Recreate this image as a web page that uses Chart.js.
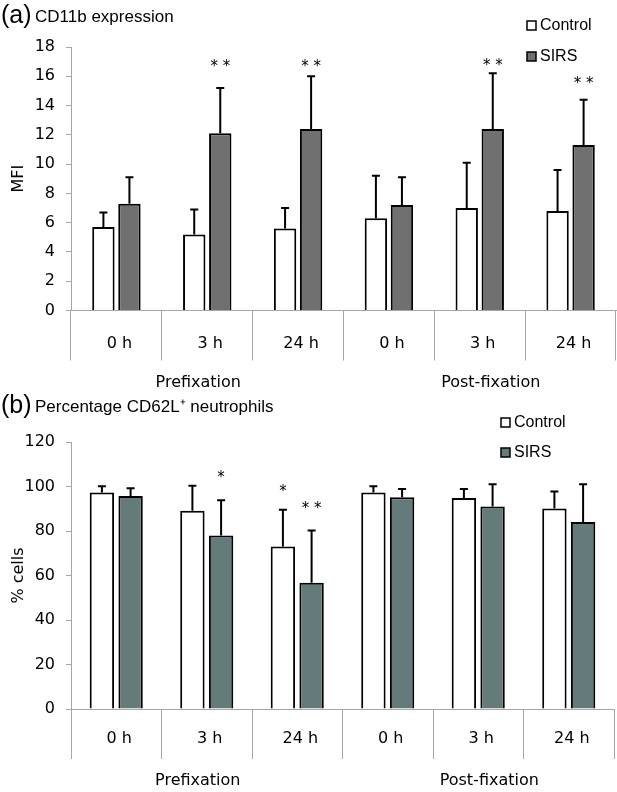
<!DOCTYPE html>
<html><head><meta charset="utf-8">
<title>CD11b / CD62L</title>
<script src="https://cdn.jsdelivr.net/npm/chart.js"></script>
<style>
  body { margin: 0; background: #fff; }
  .panel { position: relative; width: 617px; }
  canvas { display: block; }
</style>
</head>
<body>
<div class="panel"><canvas id="chartA" width="617" height="390"></canvas></div>
<div class="panel"><canvas id="chartB" width="617" height="402"></canvas></div>

<script>
// categories (time points), grouped in Prefixation / Post-fixation
const tickLabels = ['0 h', '3 h', '24 h', '0 h', '3 h', '24 h'];
const groupLabels = ['Prefixation', 'Post-fixation'];
const seriesNames = ['Control', 'SIRS'];

// (a) CD11b expression, MFI
const controlA = [5.7, 5.2, 5.6, 6.3, 7.0, 6.8];
const controlAsd = [1.0, 1.7, 1.4, 2.9, 3.1, 2.8];
const sirsA = [7.3, 12.1, 12.4, 7.2, 12.4, 11.3];
const sirsAsd = [1.8, 3.1, 3.6, 1.9, 3.8, 3.1];
const sirsAsig = ['', '**', '**', '', '**', '**'];
const sirsAsigAt = [null, 16.8, 16.8, null, 16.9, 15.7];

// (b) Percentage CD62L+ neutrophils
const controlB = [97.3, 89.1, 73.0, 97.3, 94.8, 90.1];
const controlBsd = [2.8, 11.2, 16.6, 2.8, 4.1, 7.6];
const sirsB = [95.7, 78.0, 56.7, 95.2, 91.0, 84.1];
const sirsBsd = [3.5, 15.8, 23.5, 3.7, 10.0, 16.9];
const controlBsig = ['', '', '*', '', '', ''];
const controlBsigAt = [null, null, 99.0, null, null, null];
const sirsBsig = ['', '*', '**', '', '', ''];
const sirsBsigAt = [null, 105.3, 91.1, null, null, null];

const axisGray = '#a6a6a6';
const tickFont = { family: 'DejaVu Sans', size: 16 };
const textFont = 'Liberation Sans';

// error bars (upper only), significance marks, titles, legend, group labels
const decor = {
  id: 'decor',
  afterDatasetsDraw(chart) {
    const ctx = chart.ctx;
    const y = chart.scales.y;
    const o = chart.options.plugins.decor;
    ctx.save();
    chart.data.datasets.forEach((ds, i) => {
      const meta = chart.getDatasetMeta(i);
      meta.data.forEach((bar, j) => {
        const top = y.getPixelForValue(ds.data[j] + ds.sd[j]);
        ctx.strokeStyle = '#000';
        ctx.lineWidth = 2;
        ctx.beginPath();
        ctx.moveTo(bar.x, bar.y);
        ctx.lineTo(bar.x, top);
        ctx.moveTo(bar.x - 4, top);
        ctx.lineTo(bar.x + 4, top);
        ctx.stroke();
        if (ds.sig && ds.sig[j]) {
          ctx.fillStyle = '#000';
          ctx.font = '15px DejaVu Sans';
          ctx.textAlign = 'center';
          ctx.textBaseline = 'middle';
          ctx.fillText(ds.sig[j].split('').join(' '), bar.x, y.getPixelForValue(ds.sigAt[j]) + 3);
        }
      });
    });
    ctx.restore();
  },
  afterDraw(chart) {
    const ctx = chart.ctx;
    const o = chart.options.plugins.decor;
    const x = chart.scales.x;
    const area = chart.chartArea;
    ctx.save();
    ctx.fillStyle = '#000';
    ctx.textBaseline = 'middle';
    // panel title
    ctx.textAlign = 'left';
    ctx.font = '25px ' + textFont;
    ctx.fillText(o.letter, 1, 16);
    ctx.font = '17px ' + textFont;
    ctx.fillText(o.title, 35, 17);
    // legend
    chart.data.datasets.forEach((ds, i) => {
      const ly = o.legendY[i];
      ctx.fillStyle = ds.backgroundColor;
      ctx.fillRect(o.legendX, ly - 5, 9, 9);
      ctx.strokeStyle = '#000';
      ctx.lineWidth = 1.5;
      ctx.strokeRect(o.legendX, ly - 5, 9, 9);
      ctx.fillStyle = '#000';
      ctx.font = '16px ' + textFont;
      ctx.fillText(ds.label, o.legendX + 13, ly);
    });
    // group labels
    ctx.textAlign = 'center';
    ctx.font = '16px DejaVu Sans';
    ctx.fillText(groupLabels[0], x.getPixelForValue(1) - 9, area.bottom + 72);
    ctx.fillText(groupLabels[1], x.getPixelForValue(4) + 11, area.bottom + 72);
    ctx.restore();
  }
};

function makePanel(id, p) {
  return new Chart(document.getElementById(id), {
    type: 'bar',
    data: {
      labels: tickLabels,
      datasets: [
        { label: seriesNames[0], data: p.control, sd: p.controlSd, sig: p.controlSig, sigAt: p.controlSigAt,
          backgroundColor: '#ffffff', borderColor: '#000', borderWidth: 2,
          categoryPercentage: p.catPct, barPercentage: p.barPct },
        { label: seriesNames[1], data: p.sirs, sd: p.sirsSd, sig: p.sirsSig, sigAt: p.sirsSigAt,
          backgroundColor: p.sirsColor, borderColor: '#000', borderWidth: 2,
          categoryPercentage: p.catPct, barPercentage: p.barPct }
      ]
    },
    options: {
      responsive: false,
      animation: false,
      layout: { padding: { top: p.top, right: p.right, left: 0, bottom: 0 } },
      plugins: {
        legend: { display: false },
        tooltip: { enabled: false },
        decor: { letter: p.letter, title: p.title, legendX: p.legendX, legendY: p.legendY }
      },
      scales: {
        x: {
          grid: { display: true, drawOnChartArea: false, drawTicks: true, tickLength: 50, offset: true, color: axisGray },
          border: { display: true, color: axisGray },
          ticks: { font: tickFont, color: '#000', padding: p.labelPad, labelOffset: 3, maxRotation: 0, autoSkip: false },
          afterFit: s => { s.height = p.bottom; }
        },
        y: {
          min: 0, max: p.max,
          grid: { drawOnChartArea: false, drawTicks: true, tickLength: 5, color: axisGray },
          border: { display: true, color: axisGray },
          ticks: { stepSize: p.step, font: tickFont, color: '#000', padding: 11 },
          title: { display: true, text: p.yTitle, font: tickFont, color: '#000', padding: { top: 9, bottom: 0 } },
          afterFit: s => { s.width = 71; }
        }
      }
    },
    plugins: [decor]
  });
}

makePanel('chartA', {
  letter: '(a)', title: 'CD11b expression', yTitle: 'MFI',
  control: controlA, controlSd: controlAsd, controlSig: null, controlSigAt: null,
  sirs: sirsA, sirsSd: sirsAsd, sirsSig: sirsAsig, sirsSigAt: sirsAsigAt,
  sirsColor: '#707070', max: 18, step: 2,
  top: 47, right: 1, bottom: 79.5, labelPad: -26,
  catPct: 0.573, barPct: 0.86,
  legendX: 527, legendY: [26, 57]
});

makePanel('chartB', {
  letter: '(b)', title: 'Percentage CD62L\u207A neutrophils', yTitle: '% cells',
  control: controlB, controlSd: controlBsd, controlSig: controlBsig, controlSigAt: controlBsigAt,
  sirs: sirsB, sirsSd: sirsBsd, sirsSig: sirsBsig, sirsSigAt: sirsBsigAt,
  sirsColor: '#657a7a', max: 120, step: 20,
  top: 52, right: 3, bottom: 83, labelPad: -30,
  catPct: 0.634, barPct: 0.85,
  legendX: 501, legendY: [33, 63]
});
</script>
</body>
</html>
